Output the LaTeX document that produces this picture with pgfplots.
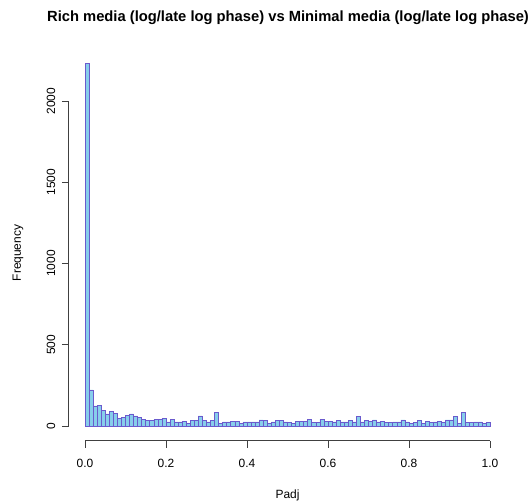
\documentclass[border=0pt]{standalone}
\usepackage{fontspec}
\setmainfont{Liberation Sans}
\usepackage{pgfplots}
\pgfplotsset{compat=1.18}
\usepackage{pgfplotstable}
\definecolor{skyb}{RGB}{135,206,235}
\definecolor{slateb}{RGB}{106,90,205}
\pgfplotstableread{
x y
0.00 2234
0.01 222
0.02 123
0.03 127
0.04 98
0.05 74
0.06 90
0.07 78
0.08 49
0.09 53
0.10 66
0.11 74
0.12 62
0.13 53
0.14 41
0.15 33
0.16 33
0.17 41
0.18 41
0.19 47
0.20 25
0.21 41
0.22 25
0.23 25
0.24 29
0.25 16
0.26 33
0.27 33
0.28 62
0.29 33
0.30 25
0.31 33
0.32 82
0.33 16
0.34 25
0.35 25
0.36 29
0.37 29
0.38 16
0.39 25
0.40 25
0.41 25
0.42 25
0.43 37
0.44 33
0.45 16
0.46 25
0.47 33
0.48 33
0.49 25
0.50 20
0.51 16
0.52 29
0.53 29
0.54 29
0.55 41
0.56 20
0.57 20
0.58 41
0.59 29
0.60 29
0.61 25
0.62 33
0.63 25
0.64 25
0.65 33
0.66 25
0.67 58
0.68 25
0.69 33
0.70 29
0.71 37
0.72 25
0.73 29
0.74 20
0.75 20
0.76 25
0.77 25
0.78 37
0.79 25
0.80 16
0.81 20
0.82 33
0.83 16
0.84 29
0.85 20
0.86 25
0.87 29
0.88 20
0.89 37
0.90 37
0.91 57
0.92 16
0.93 86
0.94 20
0.95 20
0.96 25
0.97 25
0.98 16
0.99 20
1.00 20
}\histdata
\begin{document}
\begin{tikzpicture}
\path[use as bounding box] (0,0) rectangle (532bp,503bp);
\begin{axis}[
  at={(68.8bp,62.5bp)}, anchor=south west,
  scale only axis, width=437.4bp, height=392bp,
  xmin=-0.04, xmax=1.04, ymin=-89.36, ymax=2323.36,
  axis line style={draw=none},
  xtick={0,0.2,0.4,0.6,0.8,1.0},
  ytick={0,500,1000,1500,2000},
  xtick pos=bottom, ytick pos=left,
  tick align=outside, major tick length=7bp,
  tick style={black!75, line width=0.75bp},
  /pgf/number format/assume math mode=true,
  xticklabel style={/pgf/number format/.cd, fixed, fixed zerofill, precision=1},
  yticklabel style={rotate=90, anchor=south, /pgf/number format/.cd, 1000 sep={}},
  ticklabel style={font=\fontsize{12}{14}\selectfont},
  xticklabel shift=8bp, yticklabel shift=3bp,
  clip=false,
]
\addplot[ybar interval, fill=skyb, draw=slateb, line width=0.7bp] table[x=x,y=y] {\histdata};
\draw[black!75, line width=0.75bp] (axis cs:0,-89.36) -- (axis cs:1,-89.36);
\draw[black!75, line width=0.75bp] (axis cs:-0.04,0) -- (axis cs:-0.04,2000);
\end{axis}
\node[font=\fontsize{14.8}{16}\selectfont\bfseries, anchor=base] at (288bp,481bp) {Rich media (log/late log phase) vs Minimal media (log/late log phase)};
\node[font=\fontsize{12}{14}\selectfont, anchor=base] at (287.5bp,4.5bp) {Padj};
\node[font=\fontsize{12}{14}\selectfont, rotate=90, anchor=center] at (18bp,250bp) {Frequency};
\end{tikzpicture}
\end{document}
